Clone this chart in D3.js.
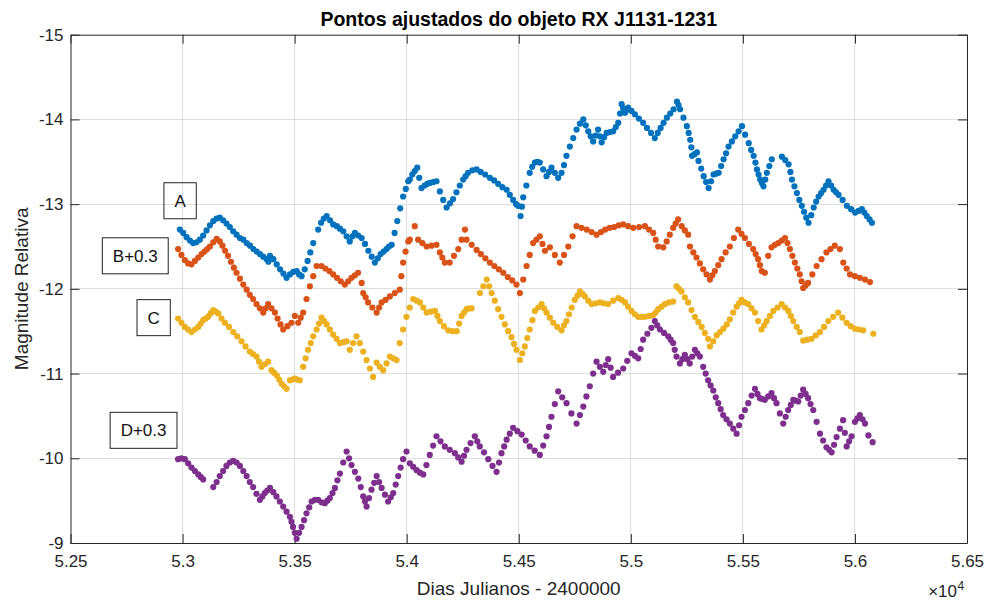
<!DOCTYPE html>
<html>
<head>
<meta charset="utf-8">
<script src="https://cdn.jsdelivr.net/npm/d3@7"></script>
<style>
  html, body { margin: 0; padding: 0; background: #fff; }
  svg { display: block; }
  text { font-family: "Liberation Sans", Arial, Helvetica, sans-serif; }
</style>
</head>
<body>
<svg id="chart" width="987" height="602"></svg>
<script>
// ---- axis ticks -----------------------------------------------------------
const xTicks = [52500, 53000, 53500, 54000, 54500, 55000, 55500, 56000, 56500];
const xTickLabels = ["5.25", "5.3", "5.35", "5.4", "5.45", "5.5", "5.55", "5.6", "5.65"];
const yTicks = [-15, -14, -13, -12, -11, -10, -9];
const yTickLabels = ["-15", "-14", "-13", "-12", "-11", "-10", "-9"];

// ---- light curves: [Julian day - 2400000, relative magnitude] -------------
const seriesA = [
  [52988,-12.70],[53003,-12.66],[53018,-12.61],[53033,-12.57],[53047,-12.54],[53062,-12.55],[53077,-12.58],
  [53092,-12.63],[53107,-12.69],[53122,-12.75],[53137,-12.80],[53152,-12.83],[53166,-12.84],[53181,-12.81],
  [53196,-12.77],[53211,-12.73],[53226,-12.68],[53241,-12.64],[53256,-12.60],[53271,-12.58],[53286,-12.54],
  [53301,-12.51],[53316,-12.47],[53331,-12.44],[53345,-12.41],[53360,-12.38],[53375,-12.35],[53383,-12.32],
  [53390,-12.39],[53405,-12.35],[53420,-12.29],[53435,-12.23],[53450,-12.18],[53464,-12.13],[53479,-12.17],
  [53494,-12.20],[53509,-12.21],[53520,-12.17],[53531,-12.15],[53545,-12.23],[53558,-12.33],[53570,-12.43],
  [53583,-12.54],[53605,-12.70],[53618,-12.78],[53630,-12.83],[53643,-12.86],[53658,-12.81],[53672,-12.76],
  [53688,-12.74],[53702,-12.71],[53717,-12.68],[53732,-12.62],[53746,-12.56],[53758,-12.62],[53769,-12.66],
  [53784,-12.63],[53799,-12.60],[53814,-12.53],[53829,-12.45],[53844,-12.38],[53858,-12.31],[53871,-12.36],
  [53884,-12.41],[53897,-12.44],[53910,-12.47],[53921,-12.50],[53933,-12.52],[53946,-12.66],[53958,-12.80],
  [53971,-12.95],[53984,-13.09],[53996,-13.18],[54007,-13.27],[54014,-13.29],[54025,-13.35],[54036,-13.39],
  [54047,-13.43],[54056,-13.31],[54066,-13.19],[54080,-13.22],[54092,-13.24],[54103,-13.25],[54118,-13.26],
  [54133,-13.27],[54148,-13.15],[54163,-13.05],[54178,-12.96],[54193,-13.01],[54207,-13.06],[54222,-13.14],
  [54237,-13.22],[54252,-13.29],[54263,-13.33],[54274,-13.37],[54293,-13.40],[54312,-13.41],[54330,-13.38],
  [54350,-13.35],[54371,-13.31],[54390,-13.28],[54408,-13.24],[54427,-13.20],[54446,-13.17],[54460,-13.11],
  [54475,-13.05],[54488,-13.00],[54497,-12.98],[54508,-12.86],[54514,-12.97],[54520,-13.08],[54534,-13.22],
  [54549,-13.37],[54560,-13.44],[54572,-13.49],[54583,-13.50],[54594,-13.49],[54609,-13.41],[54624,-13.33],
  [54635,-13.38],[54646,-13.43],[54661,-13.37],[54676,-13.31],[54691,-13.37],[54702,-13.46],[54713,-13.57],
  [54728,-13.68],[54743,-13.78],[54758,-13.88],[54773,-13.95],[54788,-14.00],[54799,-13.93],[54810,-13.86],
  [54821,-13.80],[54832,-13.74],[54843,-13.81],[54854,-13.88],[54862,-13.80],[54870,-13.73],[54881,-13.79],
  [54892,-13.84],[54906,-13.85],[54921,-13.86],[54933,-13.91],[54944,-13.96],[54952,-14.07],[54959,-14.18],
  [54966,-14.13],[54974,-14.08],[54981,-14.11],[54988,-14.14],[55003,-14.10],[55018,-14.06],[55036,-14.01],
  [55055,-13.96],[55072,-13.90],[55090,-13.84],[55107,-13.78],[55120,-13.84],[55133,-13.90],[55146,-13.96],
  [55161,-14.02],[55176,-14.07],[55191,-14.12],[55206,-14.21],[55213,-14.17],[55220,-14.12],[55235,-14.02],
  [55250,-13.92],[55258,-13.84],[55265,-13.76],[55270,-13.67],[55273,-13.57],[55284,-13.59],[55295,-13.61],
  [55302,-13.51],[55314,-13.42],[55325,-13.33],[55336,-13.26],[55347,-13.19],[55358,-13.27],[55369,-13.35],
  [55380,-13.36],[55392,-13.37],[55403,-13.45],[55414,-13.53],[55425,-13.60],[55436,-13.68],[55451,-13.74],
  [55466,-13.80],[55481,-13.86],[55496,-13.92],[55510,-13.82],[55526,-13.72],[55537,-13.64],[55548,-13.57],
  [55556,-13.49],[55563,-13.41],[55570,-13.35],[55577,-13.29],[55585,-13.25],[55592,-13.21],[55600,-13.29],
  [55607,-13.37],[55618,-13.45],[55629,-13.53],[55674,-13.56],[55689,-13.52],[55704,-13.47],[55712,-13.38],
  [55719,-13.29],[55730,-13.21],[55741,-13.13],[55752,-13.05],[55763,-12.98],[55773,-12.91],[55783,-12.84],
  [55793,-12.78],[55805,-12.87],[55816,-12.96],[55827,-13.03],[55838,-13.09],[55849,-13.13],[55860,-13.17],
  [55871,-13.22],[55882,-13.27],[55894,-13.22],[55905,-13.17],[55916,-13.14],[55927,-13.11],[55945,-13.05],
  [55964,-12.98],[55983,-12.94],[56001,-12.90],[56016,-12.92],[56031,-12.94],[56042,-12.90],[56053,-12.86],
  [56065,-12.82],[56076,-12.78]
];

const seriesB = [
  [52980,-12.47],[52995,-12.40],[53010,-12.34],[53025,-12.30],[53040,-12.29],[53055,-12.33],[53070,-12.37],
  [53085,-12.41],[53098,-12.44],[53110,-12.47],[53122,-12.50],[53137,-12.55],[53152,-12.59],[53166,-12.56],
  [53178,-12.51],[53190,-12.45],[53203,-12.39],[53216,-12.32],[53229,-12.25],[53241,-12.19],[53256,-12.12],
  [53271,-12.05],[53286,-11.99],[53300,-11.93],[53315,-11.88],[53330,-11.82],[53345,-11.77],[53360,-11.72],
  [53371,-11.77],[53382,-11.82],[53397,-11.77],[53412,-11.72],[53424,-11.65],[53437,-11.58],[53449,-11.52],
  [53468,-11.56],[53486,-11.60],[53501,-11.68],[53516,-11.60],[53527,-11.66],[53538,-11.72],[53553,-11.88],
  [53568,-12.03],[53583,-12.15],[53598,-12.27],[53620,-12.27],[53637,-12.24],[53655,-12.21],[53672,-12.17],
  [53689,-12.13],[53706,-12.09],[53724,-12.05],[53739,-12.09],[53754,-12.13],[53769,-12.16],[53783,-12.19],
  [53799,-12.07],[53806,-11.95],[53817,-11.90],[53828,-11.84],[53847,-11.78],[53866,-11.72],[53877,-11.78],
  [53888,-11.84],[53906,-11.87],[53925,-11.91],[53947,-11.95],[53969,-11.99],[53976,-12.15],[53984,-12.31],
  [53995,-12.44],[54007,-12.56],[54014,-12.58],[54036,-12.74],[54051,-12.58],[54070,-12.54],[54089,-12.50],
  [54111,-12.51],[54133,-12.52],[54148,-12.43],[54159,-12.37],[54170,-12.31],[54192,-12.31],[54211,-12.39],
  [54230,-12.47],[54245,-12.58],[54260,-12.70],[54267,-12.58],[54290,-12.52],[54312,-12.46],[54331,-12.41],
  [54351,-12.36],[54371,-12.31],[54391,-12.27],[54411,-12.23],[54431,-12.19],[54451,-12.14],[54471,-12.10],
  [54490,-12.05],[54505,-11.95],[54520,-12.11],[54535,-12.27],[54549,-12.40],[54564,-12.54],[54579,-12.58],
  [54594,-12.62],[54606,-12.53],[54617,-12.45],[54639,-12.49],[54661,-12.40],[54683,-12.31],[54702,-12.40],
  [54721,-12.50],[54740,-12.62],[54758,-12.74],[54780,-12.72],[54803,-12.70],[54825,-12.67],[54847,-12.64],
  [54867,-12.67],[54886,-12.70],[54906,-12.72],[54926,-12.73],[54946,-12.75],[54966,-12.76],[54988,-12.74],
  [55011,-12.72],[55037,-12.73],[55063,-12.74],[55081,-12.70],[55100,-12.66],[55111,-12.58],[55122,-12.50],
  [55145,-12.49],[55160,-12.56],[55174,-12.64],[55189,-12.72],[55200,-12.77],[55211,-12.82],[55227,-12.74],
  [55241,-12.69],[55256,-12.64],[55264,-12.50],[55279,-12.43],[55293,-12.37],[55308,-12.30],[55323,-12.23],
  [55338,-12.17],[55353,-12.11],[55364,-12.16],[55375,-12.21],[55390,-12.28],[55405,-12.35],[55423,-12.43],
  [55442,-12.50],[55460,-12.60],[55479,-12.70],[55494,-12.65],[55509,-12.60],[55527,-12.53],[55546,-12.47],
  [55557,-12.41],[55568,-12.35],[55576,-12.28],[55584,-12.21],[55598,-12.19],[55613,-12.39],[55628,-12.49],
  [55643,-12.52],[55658,-12.54],[55673,-12.57],[55688,-12.60],[55699,-12.54],[55710,-12.47],[55721,-12.39],
  [55732,-12.31],[55743,-12.24],[55754,-12.17],[55762,-12.09],[55769,-12.01],[55780,-12.04],[55791,-12.07],
  [55810,-12.17],[55829,-12.27],[55851,-12.35],[55873,-12.43],[55891,-12.47],[55910,-12.51],[55933,-12.47],
  [55948,-12.31],[55963,-12.24],[55978,-12.17],[56000,-12.15],[56022,-12.13],[56045,-12.11],[56067,-12.08]
];

const seriesC = [
  [52980,-11.65],[52995,-11.60],[53010,-11.55],[53025,-11.52],[53040,-11.49],[53055,-11.52],[53070,-11.55],
  [53081,-11.59],[53092,-11.63],[53103,-11.65],[53114,-11.67],[53125,-11.71],[53137,-11.75],[53148,-11.73],
  [53159,-11.71],[53174,-11.65],[53189,-11.60],[53207,-11.55],[53226,-11.49],[53244,-11.44],[53263,-11.38],
  [53281,-11.32],[53300,-11.26],[53315,-11.23],[53330,-11.20],[53341,-11.14],[53352,-11.08],[53367,-11.11],
  [53382,-11.14],[53397,-11.04],[53408,-11.01],[53420,-10.98],[53431,-10.93],[53442,-10.88],[53453,-10.85],
  [53464,-10.82],[53479,-10.92],[53490,-10.93],[53501,-10.94],[53512,-10.93],[53523,-10.92],[53538,-11.08],
  [53549,-11.18],[53560,-11.28],[53572,-11.36],[53583,-11.44],[53598,-11.52],[53609,-11.59],[53620,-11.66],
  [53632,-11.62],[53643,-11.58],[53657,-11.52],[53672,-11.46],[53687,-11.41],[53702,-11.36],[53717,-11.37],
  [53732,-11.38],[53746,-11.28],[53761,-11.36],[53776,-11.44],[53791,-11.36],[53806,-11.26],[53821,-11.16],
  [53836,-11.06],[53850,-10.96],[53866,-11.13],[53880,-11.08],[53895,-11.04],[53910,-11.12],[53925,-11.20],
  [53940,-11.18],[53955,-11.16],[53969,-11.36],[53984,-11.52],[53999,-11.67],[54014,-11.78],[54029,-11.88],
  [54044,-11.86],[54059,-11.84],[54074,-11.78],[54089,-11.72],[54107,-11.73],[54126,-11.74],[54137,-11.68],
  [54148,-11.62],[54166,-11.56],[54185,-11.51],[54204,-11.50],[54223,-11.50],[54234,-11.59],[54245,-11.68],
  [54256,-11.72],[54267,-11.76],[54278,-11.77],[54290,-11.77],[54327,-11.95],[54342,-12.03],[54357,-12.11],
  [54368,-12.03],[54379,-11.95],[54393,-11.86],[54408,-11.76],[54423,-11.67],[54438,-11.58],[54453,-11.50],
  [54468,-11.43],[54479,-11.35],[54490,-11.28],[54505,-11.16],[54516,-11.24],[54527,-11.32],[54538,-11.42],
  [54549,-11.52],[54561,-11.63],[54572,-11.74],[54587,-11.78],[54602,-11.82],[54613,-11.77],[54624,-11.72],
  [54639,-11.66],[54654,-11.60],[54672,-11.55],[54691,-11.51],[54702,-11.57],[54713,-11.62],[54724,-11.70],
  [54736,-11.78],[54750,-11.87],[54762,-11.92],[54773,-11.97],[54784,-11.94],[54795,-11.91],[54810,-11.86],
  [54825,-11.82],[54843,-11.83],[54862,-11.84],[54880,-11.83],[54899,-11.82],[54921,-11.86],[54944,-11.89],
  [54959,-11.87],[54974,-11.84],[54988,-11.79],[55003,-11.74],[55018,-11.70],[55033,-11.67],[55048,-11.67],
  [55063,-11.67],[55081,-11.68],[55100,-11.69],[55111,-11.72],[55122,-11.76],[55137,-11.79],[55152,-11.82],
  [55170,-11.84],[55189,-11.85],[55204,-12.03],[55215,-12.00],[55226,-11.97],[55241,-11.90],[55256,-11.84],
  [55271,-11.75],[55286,-11.67],[55301,-11.61],[55316,-11.55],[55330,-11.48],[55345,-11.41],[55353,-11.32],
  [55368,-11.38],[55383,-11.45],[55398,-11.49],[55413,-11.53],[55428,-11.58],[55442,-11.64],[55457,-11.72],
  [55472,-11.79],[55483,-11.83],[55494,-11.87],[55509,-11.84],[55524,-11.82],[55539,-11.77],[55554,-11.72],
  [55568,-11.62],[55583,-11.52],[55595,-11.57],[55606,-11.62],[55621,-11.68],[55636,-11.74],[55655,-11.78],
  [55673,-11.82],[55688,-11.78],[55703,-11.74],[55714,-11.68],[55725,-11.62],[55740,-11.55],[55754,-11.49],
  [55769,-11.39],[55787,-11.40],[55806,-11.41],[55825,-11.45],[55844,-11.49],[55862,-11.55],[55881,-11.62],
  [55903,-11.67],[55925,-11.72],[55944,-11.66],[55963,-11.60],[55981,-11.56],[56000,-11.53],[56018,-11.52],
  [56037,-11.51],[56082,-11.47]
];

const seriesD = [
  [52980,-9.99],[52995,-10.00],[53010,-9.99],[53025,-9.94],[53040,-9.89],[53055,-9.85],[53070,-9.81],
  [53081,-9.78],[53092,-9.75],[53137,-9.66],[53152,-9.72],[53166,-9.79],[53181,-9.85],[53196,-9.91],
  [53211,-9.95],[53226,-9.97],[53241,-9.95],[53256,-9.91],[53271,-9.85],[53286,-9.79],[53300,-9.72],
  [53315,-9.66],[53330,-9.58],[53345,-9.51],[53356,-9.55],[53367,-9.59],[53378,-9.62],[53390,-9.65],
  [53405,-9.60],[53419,-9.55],[53434,-9.49],[53449,-9.43],[53464,-9.37],[53479,-9.31],[53486,-9.25],
  [53493,-9.19],[53501,-9.12],[53509,-9.05],[53520,-9.12],[53531,-9.19],[53542,-9.27],[53553,-9.35],
  [53565,-9.42],[53576,-9.49],[53590,-9.51],[53605,-9.51],[53620,-9.48],[53635,-9.47],[53646,-9.50],
  [53657,-9.53],[53669,-9.59],[53680,-9.65],[53691,-9.74],[53702,-9.82],[53717,-9.95],[53732,-10.08],
  [53743,-10.00],[53754,-9.92],[53769,-9.84],[53784,-9.76],[53795,-9.66],[53806,-9.55],[53814,-9.49],
  [53821,-9.43],[53832,-9.53],[53843,-9.63],[53855,-9.71],[53866,-9.79],[53877,-9.72],[53888,-9.65],
  [53903,-9.57],[53917,-9.49],[53929,-9.54],[53940,-9.59],[53951,-9.69],[53962,-9.79],[53973,-9.89],
  [53984,-9.99],[53999,-10.08],[54014,-9.94],[54029,-9.90],[54044,-9.86],[54059,-9.83],[54074,-9.81],
  [54088,-9.92],[54103,-10.04],[54118,-10.15],[54133,-10.26],[54151,-10.20],[54170,-10.14],[54192,-10.10],
  [54215,-10.06],[54230,-10.01],[54245,-9.96],[54256,-10.03],[54267,-10.10],[54285,-10.18],[54304,-10.26],
  [54315,-10.20],[54326,-10.14],[54345,-10.07],[54364,-9.99],[54383,-9.91],[54401,-9.84],[54412,-9.95],
  [54423,-10.06],[54435,-10.14],[54446,-10.22],[54460,-10.29],[54475,-10.36],[54494,-10.32],[54513,-10.28],
  [54531,-10.21],[54549,-10.14],[54571,-10.09],[54594,-10.04],[54609,-10.15],[54624,-10.26],[54635,-10.37],
  [54646,-10.49],[54661,-10.64],[54676,-10.79],[54694,-10.72],[54713,-10.65],[54735,-10.53],[54758,-10.41],
  [54773,-10.51],[54788,-10.61],[54802,-10.73],[54817,-10.85],[54832,-11.00],[54847,-11.14],[54862,-11.08],
  [54877,-11.02],[54888,-11.10],[54899,-11.17],[54910,-11.07],[54921,-10.96],[54943,-11.01],[54966,-11.06],
  [54984,-11.15],[55003,-11.24],[55018,-11.21],[55033,-11.18],[55044,-11.29],[55055,-11.40],[55074,-11.47],
  [55092,-11.54],[55107,-11.62],[55118,-11.57],[55130,-11.52],[55148,-11.48],[55167,-11.44],[55178,-11.40],
  [55189,-11.36],[55196,-11.28],[55204,-11.20],[55219,-11.12],[55230,-11.17],[55241,-11.22],[55252,-11.17],
  [55263,-11.12],[55274,-11.20],[55286,-11.28],[55297,-11.24],[55308,-11.20],[55323,-11.08],[55334,-11.00],
  [55345,-10.92],[55356,-10.86],[55368,-10.80],[55379,-10.72],[55390,-10.65],[55401,-10.58],[55412,-10.51],
  [55427,-10.46],[55442,-10.41],[55457,-10.35],[55472,-10.29],[55483,-10.39],[55494,-10.49],[55509,-10.57],
  [55524,-10.65],[55539,-10.74],[55554,-10.82],[55565,-10.76],[55576,-10.71],[55587,-10.70],[55598,-10.69],
  [55613,-10.73],[55628,-10.77],[55639,-10.71],[55650,-10.65],[55665,-10.53],[55680,-10.41],[55691,-10.49],
  [55702,-10.57],[55714,-10.63],[55725,-10.69],[55736,-10.68],[55747,-10.67],[55758,-10.74],[55769,-10.81],
  [55780,-10.76],[55791,-10.71],[55802,-10.64],[55814,-10.57],[55829,-10.43],[55844,-10.29],[55858,-10.21],
  [55873,-10.13],[55885,-10.10],[55896,-10.07],[55907,-10.16],[55918,-10.25],[55933,-10.35],[55947,-10.45],
  [55955,-10.30],[55963,-10.14],[55974,-10.20],[55985,-10.26],[56000,-10.43],[56011,-10.47],[56022,-10.51],
  [56034,-10.46],[56045,-10.41],[56060,-10.27],[56079,-10.19]
];

const seriesLabels = ["A", "B+0.3", "C", "D+0.3"];
const seriesColors = ["#0072BD", "#D95319", "#EDB120", "#7E2F8E"];

// ---- text titles ----------------------------------------------------------
const chartTitle = "Pontos ajustados do objeto RX J1131-1231";
const xLabel = "Dias Julianos - 2400000";
const yLabel = "Magnitude Relativa";

// ---- layout ---------------------------------------------------------------
const W = 987, H = 602;
const plot = { left: 70.5, right: 967, top: 34.7, bottom: 543 };
const ink = "#262626";
const tickLen = 9;

const svg = d3.select("#chart");

const x = d3.scaleLinear().domain([52500, 56500]).range([plot.left, plot.right]);
const y = d3.scaleLinear().domain([-15, -9]).range([plot.top, plot.bottom]);

// grid
const grid = svg.append("g").attr("class", "grid")
  .attr("stroke", "#dedede").attr("stroke-width", 1).attr("shape-rendering", "crispEdges");
grid.selectAll("line.gx").data(xTicks.slice(1, -1)).join("line")
  .attr("x1", d => x(d)).attr("x2", d => x(d))
  .attr("y1", plot.top).attr("y2", plot.bottom);
grid.selectAll("line.gy").data(yTicks.slice(1, -1)).join("line")
  .attr("x1", plot.left).attr("x2", plot.right)
  .attr("y1", d => y(d)).attr("y2", d => y(d));

// axes (ticks pointing inward on all four sides)
function styleAxis(g) {
  g.select(".domain").attr("stroke", ink).attr("stroke-width", 1);
  g.selectAll(".tick line").attr("stroke", ink).attr("stroke-width", 1);
  g.selectAll(".tick text").attr("fill", ink).attr("font-size", 17)
    .attr("font-family", '"Liberation Sans", Arial, sans-serif');
}

svg.append("g")
  .attr("transform", `translate(0,${plot.bottom})`)
  .call(d3.axisBottom(x).tickValues(xTicks).tickFormat((d, i) => xTickLabels[i])
    .tickSizeInner(-tickLen).tickSizeOuter(0).tickPadding(12))
  .call(styleAxis);

svg.append("g")
  .attr("transform", `translate(0,${plot.top})`)
  .call(d3.axisTop(x).tickValues(xTicks).tickFormat("")
    .tickSizeInner(-tickLen).tickSizeOuter(0))
  .call(styleAxis);

svg.append("g")
  .attr("transform", `translate(${plot.left},0)`)
  .call(d3.axisLeft(y).tickValues(yTicks).tickFormat((d, i) => yTickLabels[i])
    .tickSizeInner(-tickLen).tickSizeOuter(0).tickPadding(7))
  .call(styleAxis);

svg.append("g")
  .attr("transform", `translate(${plot.right},0)`)
  .call(d3.axisRight(y).tickValues(yTicks).tickFormat("")
    .tickSizeInner(-tickLen).tickSizeOuter(0))
  .call(styleAxis);

// data points
const allSeries = [seriesA, seriesB, seriesC, seriesD];
allSeries.forEach((s, k) => {
  svg.append("g").attr("fill", seriesColors[k])
    .selectAll("circle").data(s).join("circle")
    .attr("cx", d => x(d[0])).attr("cy", d => y(d[1])).attr("r", 3.1);
});

// series tags in boxes, centred on a data-space anchor
const tagAnchors = [[52989, -13.04], [52789, -12.39], [52871, -11.66], [52826, -10.33]];
seriesLabels.forEach((lab, k) => {
  const cx = x(tagAnchors[k][0]), cy = y(tagAnchors[k][1]);
  const g = svg.append("g");
  const t = g.append("text").attr("x", cx).attr("y", cy).attr("dy", "0.36em")
    .attr("text-anchor", "middle").attr("font-size", 17).attr("fill", "#111").text(lab);
  const w = t.node().getComputedTextLength() + 21;
  const h = 36;
  g.insert("rect", "text")
    .attr("x", cx - w / 2).attr("y", cy - h / 2).attr("width", w).attr("height", h)
    .attr("fill", "none").attr("stroke", "#222").attr("stroke-width", 1);
});

// title and axis labels
svg.append("text").attr("x", (plot.left + plot.right) / 2).attr("y", 26)
  .attr("text-anchor", "middle").attr("font-size", 19.5).attr("font-weight", "bold")
  .attr("fill", "#000").text(chartTitle);

svg.append("text").attr("x", (plot.left + plot.right) / 2).attr("y", 595)
  .attr("text-anchor", "middle").attr("font-size", 19).attr("fill", ink).text(xLabel);

svg.append("text")
  .attr("transform", `translate(28,${(plot.top + plot.bottom) / 2}) rotate(-90)`)
  .attr("text-anchor", "middle").attr("font-size", 19).attr("fill", ink).text(yLabel);

// axis exponent
svg.append("text").attr("x", 957).attr("y", 597).attr("text-anchor", "end")
  .attr("font-size", 17).attr("fill", ink).text("\u00d710");
svg.append("text").attr("x", 957.5).attr("y", 590)
  .attr("font-size", 12).attr("fill", ink).text("4");
</script>
</body>
</html>
